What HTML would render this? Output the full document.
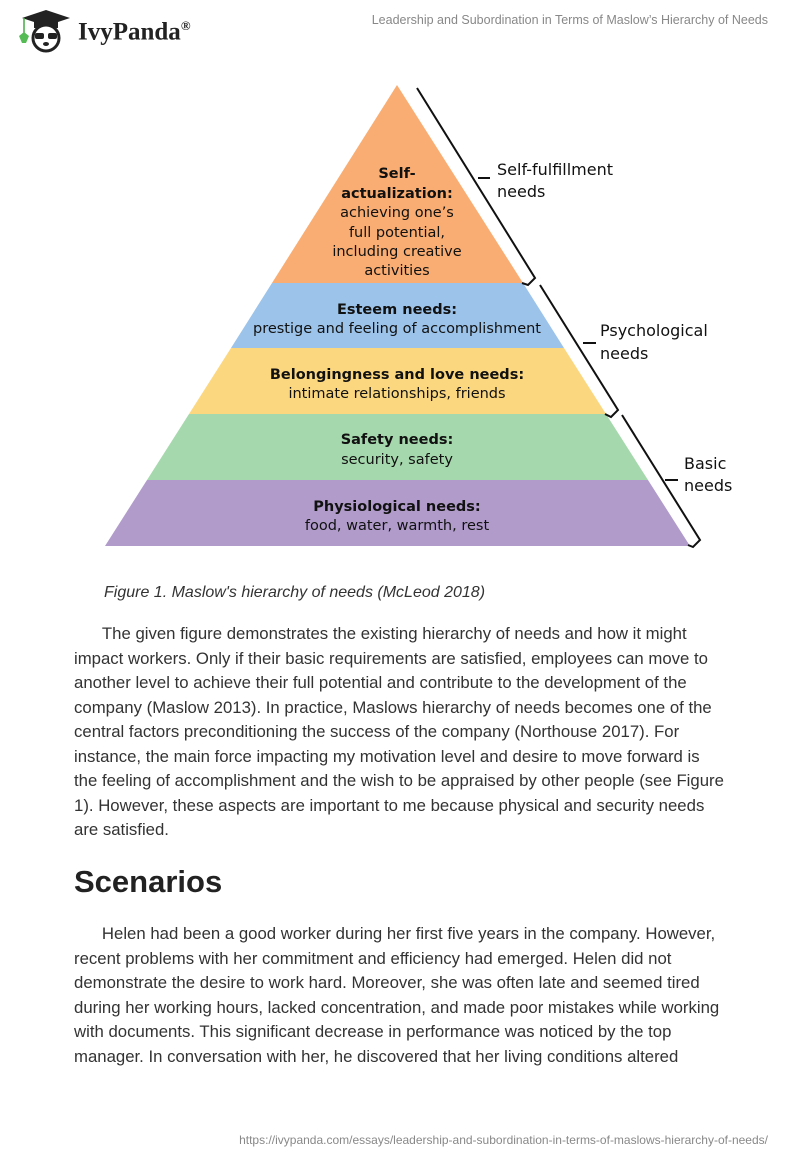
<!DOCTYPE html>
<html><head><meta charset="utf-8"><style>
body{margin:0;width:800px;height:1160px;background:#fff;font-family:"Liberation Sans",sans-serif;color:#333;position:relative;overflow:hidden}
.hdr{position:absolute;top:13px;right:32px;font-size:12.5px;color:#888}
.logo{position:absolute;left:78px;top:18px;font-family:"Liberation Serif",serif;font-weight:bold;font-size:25px;color:#222}
.p{position:absolute;left:74px;width:720px;font-size:16.75px;line-height:24.5px;color:#333;white-space:nowrap}
.cap{position:absolute;left:104px;top:584px;font-style:italic;font-size:16px;color:#333}
h2{position:absolute;left:74px;top:864px;margin:0;font-size:31px;font-weight:bold;color:#222}
.foot{position:absolute;right:32px;top:1133px;font-size:12px;color:#888}
svg text{font-family:"DejaVu Sans",sans-serif}
</style></head><body>
<svg style="position:absolute;left:14px;top:8px" width="64" height="46" viewBox="0 0 64 46">
<polygon points="8,10 32,2 56,10 32,18" fill="#222"/>
<rect x="20" y="12" width="24" height="8" fill="#222"/>
<line x1="10" y1="10" x2="10" y2="28" stroke="#4a4" stroke-width="1.5"/>
<path d="M5,28 L10,24 L15,28 L12,35 L8,35Z" fill="#5b5"/>
<circle cx="32" cy="30" r="13" fill="#fff" stroke="#222" stroke-width="3"/>
<rect x="21" y="25" width="9" height="6" rx="2" fill="#222"/><rect x="34" y="25" width="9" height="6" rx="2" fill="#222"/>
<ellipse cx="32" cy="36" rx="3" ry="2" fill="#222"/>
</svg>
<div class="logo">IvyPanda<sup style="font-size:13px">®</sup></div>
<div class="hdr">Leadership and Subordination in Terms of Maslow’s Hierarchy of Needs</div>

<svg style="position:absolute;left:0;top:0" width="800" height="560">
<polygon points="397,85 272,283 523,283" fill="#f9ad72"/>
<polygon points="272,283 523,283 564,348 231,348" fill="#9cc3ea"/>
<polygon points="231,348 564,348 606,414 189,414" fill="#fbd780"/>
<polygon points="189,414 606,414 648,480 147,480" fill="#a6d8ad"/>
<polygon points="147,480 648,480 690,546 105,546" fill="#b19bcb"/>
<g fill="none" stroke="#111" stroke-width="2">
<polyline points="417,88 535,278 528,285 522,283"/>
<line x1="478" y1="178" x2="490" y2="178"/>
<polyline points="540,285 618,410 611,417 605,414"/>
<line x1="583" y1="343" x2="596" y2="343"/>
<polyline points="622,415 700,540 693,547 688,545"/>
<line x1="665" y1="480" x2="678" y2="480"/>
</g>
<g fill="#111" font-size="14.5" text-anchor="middle">
<text x="397" y="178" font-weight="bold">Self-</text>
<text x="397" y="198" font-weight="bold">actualization:</text>
<text x="397" y="217">achieving one’s</text>
<text x="397" y="237">full potential,</text>
<text x="397" y="256">including creative</text>
<text x="397" y="275">activities</text>
<text x="397" y="314" font-weight="bold">Esteem needs:</text>
<text x="397" y="333">prestige and feeling of accomplishment</text>
<text x="397" y="379" font-weight="bold">Belongingness and love needs:</text>
<text x="397" y="398">intimate relationships, friends</text>
<text x="397" y="444" font-weight="bold">Safety needs:</text>
<text x="397" y="464">security, safety</text>
<text x="397" y="511" font-weight="bold">Physiological needs:</text>
<text x="397" y="530">food, water, warmth, rest</text>
</g>
<g fill="#111" font-size="16">
<text x="497" y="175">Self-fulfillment</text><text x="497" y="197">needs</text>
<text x="600" y="336">Psychological</text><text x="600" y="359">needs</text>
<text x="684" y="469">Basic</text><text x="684" y="491">needs</text>
</g>
</svg>

<div class="cap">Figure 1. Maslow's hierarchy of needs (McLeod 2018)</div>
<div class="p" style="top:622px">&nbsp;&nbsp;&nbsp;&nbsp;&nbsp;&nbsp;The given figure demonstrates the existing hierarchy of needs and how it might<br>impact workers. Only if their basic requirements are satisfied, employees can move to<br>another level to achieve their full potential and contribute to the development of the<br>company (Maslow 2013). In practice, Maslows hierarchy of needs becomes one of the<br>central factors preconditioning the success of the company (Northouse 2017). For<br>instance, the main force impacting my motivation level and desire to move forward is<br>the feeling of accomplishment and the wish to be appraised by other people (see Figure<br>1). However, these aspects are important to me because physical and security needs<br>are satisfied.</div>
<h2>Scenarios</h2>
<div class="p" style="top:922px">&nbsp;&nbsp;&nbsp;&nbsp;&nbsp;&nbsp;Helen had been a good worker during her first five years in the company. However,<br>recent problems with her commitment and efficiency had emerged. Helen did not<br>demonstrate the desire to work hard. Moreover, she was often late and seemed tired<br>during her working hours, lacked concentration, and made poor mistakes while working<br>with documents. This significant decrease in performance was noticed by the top<br>manager. In conversation with her, he discovered that her living conditions altered</div>
<div class="foot">https://ivypanda.com/essays/leadership-and-subordination-in-terms-of-maslows-hierarchy-of-needs/</div>
</body></html>
